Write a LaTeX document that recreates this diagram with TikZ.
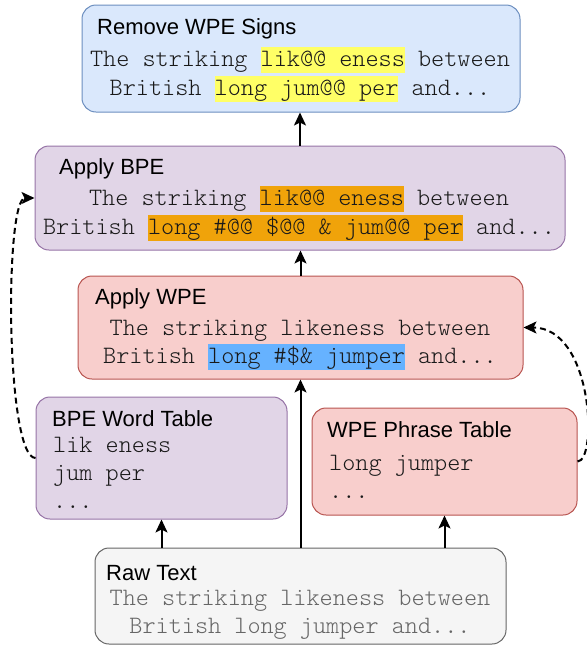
\documentclass[tikz,border=0pt]{standalone}
\usepackage{fontspec}
\setmainfont{Liberation Sans}
\newfontfamily\codefont{Latin Modern Mono Light}
\usetikzlibrary{arrows.meta}
\definecolor{bluefill}{HTML}{DAE8FC}
\definecolor{bluedraw}{HTML}{6C8EBF}
\definecolor{purplefill}{HTML}{E1D5E7}
\definecolor{purpledraw}{HTML}{9673A6}
\definecolor{redfill}{HTML}{F8CECC}
\definecolor{reddraw}{HTML}{B85450}
\definecolor{greyfill}{HTML}{F5F5F5}
\definecolor{greydraw}{HTML}{666666}
\definecolor{rawtext}{HTML}{666666}
\definecolor{hlyellow}{HTML}{FFFF66}
\definecolor{hlorange}{HTML}{F0A30A}
\definecolor{hlblue}{HTML}{66B2FF}
\newcommand{\hlbox}[2]{{\setlength{\fboxsep}{0pt}\colorbox{#1}{\rule[-7pt]{0pt}{26pt}#2}}}
\begin{document}
\begin{tikzpicture}[x=1pt, y=-1pt,
        box/.style={draw, rounded corners=14pt, line width=1pt, inner sep=0pt},
        title/.style={anchor=base west, inner sep=0pt, font=\fontsize{22}{26}\selectfont},
        code/.style={anchor=base, inner sep=0pt, text=black!90, font=\codefont\fontsize{25}{28}\selectfont},
        flow/.style={line width=2pt, -{Stealth[length=13pt, width=12pt, inset=3pt]}},
        back/.style={flow, dash pattern=on 6pt off 4pt}]
            \useasboundingbox (0,0) rectangle (587,646);
            \node[box, draw=bluedraw, fill=bluefill, minimum width=438pt, minimum height=107pt] (rm) at (301,58.5) {};
            \node[box, draw=purpledraw, fill=purplefill, minimum width=530pt, minimum height=104pt] (bpe) at (300,198) {};
            \node[box, draw=reddraw, fill=redfill, minimum width=445pt, minimum height=103pt] (wpe) at (300.5,327.5) {};
            \node[box, draw=purpledraw, fill=purplefill, minimum width=251pt, minimum height=122pt] (bpetab) at (161.5,458) {};
            \node[box, draw=reddraw, fill=redfill, minimum width=265pt, minimum height=107pt] (wpetab) at (444.5,461.5) {};
            \node[box, draw=greydraw, fill=greyfill, minimum width=411pt, minimum height=96pt] (raw) at (300.5,596) {};

            \node[title] (rmtitle) at (97,34) {Remove WPE Signs};
            \node[code] (rmlineA) at (300,66) {The striking \hlbox{hlyellow}{lik@@ eness} between};
            \node[code] (rmlineB) at (300,95) {British \hlbox{hlyellow}{long jum@@ per} and...};

            \node[title] (bpetitle) at (59,174) {Apply BPE};
            \node[code] (bpelineA) at (299,205) {The striking \hlbox{hlorange}{lik@@ eness} between};
            \node[code] (bpelineB) at (299,234) {British \hlbox{hlorange}{long \#@@ \$@@ \& jum@@ per} and...};

            \node[title] (wpetitle) at (95,304) {Apply WPE};
            \node[code] (wpelineA) at (300,335) {The striking likeness between};
            \node[code] (wpelineB) at (300,363) {British \hlbox{hlblue}{long \#\$\& jumper} and...};

            \node[title] (bpetabtitle) at (52,426) {BPE Word Table};
            \node[code, anchor=base west] (bpetabA) at (53,452) {lik eness};
            \node[code, anchor=base west] (bpetabB) at (53,480) {jum per};
            \node[code, anchor=base west] (bpetabC) at (53,508) {...};

            \node[title] (wpetabtitle) at (327,437) {WPE Phrase Table};
            \node[code, anchor=base west] (wpetabA) at (329,470) {long jumper};
            \node[code, anchor=base west] (wpetabB) at (329,498) {...};

            \node[title] (rawtitle) at (106,580) {Raw Text};
            \node[code, text=rawtext] (rawlineA) at (300,605) {The striking likeness between};
            \node[code, text=rawtext] (rawlineB) at (300,633) {British long jumper and...};

            \draw[flow] (raw.north) -- (wpe.south);
            \draw[flow] (raw.north -| bpetab.south) -- (bpetab.south);
            \draw[flow] (raw.north -| wpetab.south) -- (wpetab.south);
            \draw[flow] (wpe.north) -- (wpe.north |- bpe.south);
            \draw[flow] (bpe.north) -- (bpe.north |- rm.south);
            \draw[back] (bpetab.west) .. controls +(-30,0) and +(-30,0) .. (bpe.west);
            \draw[back] (wpetab.east) .. controls +(20,0) and +(70,0) .. (wpe.east);
        \end{tikzpicture}
\end{document}
